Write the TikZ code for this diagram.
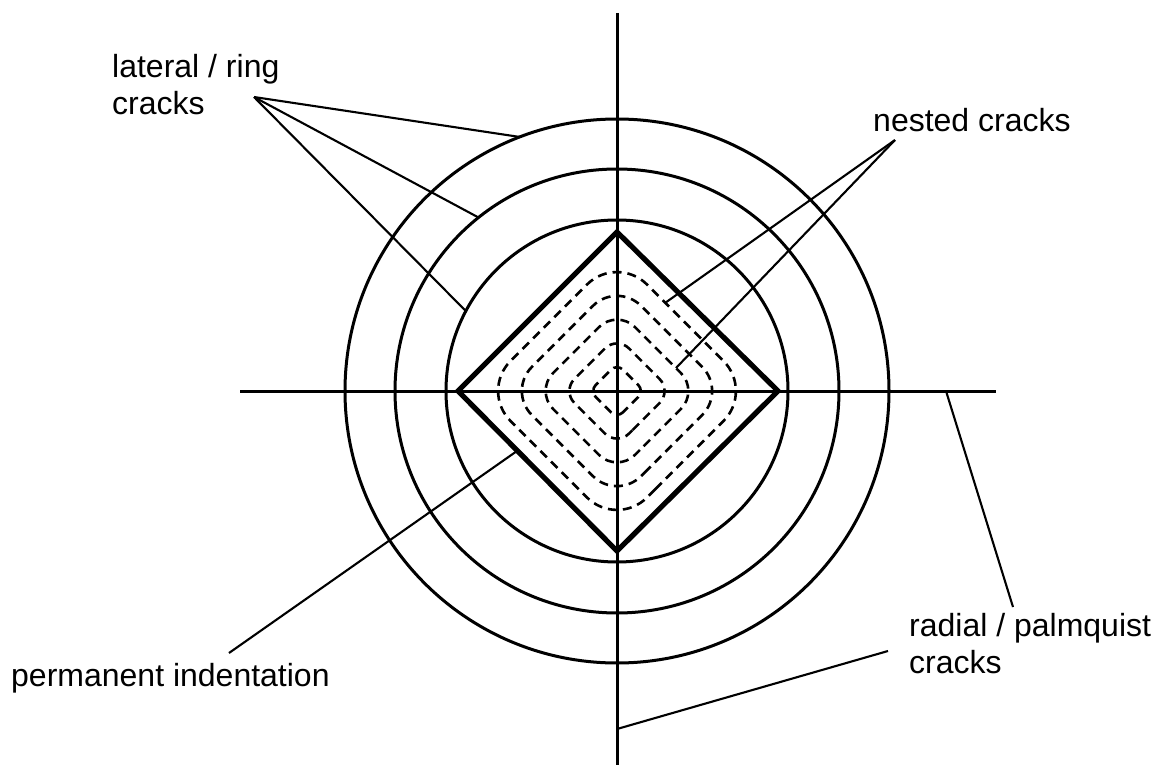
\documentclass[tikz,border=0pt]{standalone}
\usepackage{fontspec}
\setmainfont{Liberation Sans}
\usetikzlibrary{calc}
\begin{document}
\begin{tikzpicture}[x=1pt,y=-1pt,
  ring/.style={line width=3pt},
  axisline/.style={line width=3pt},
  indent/.style={line width=5.2pt,line join=miter},
  nest/.style={line width=2.6pt,dash pattern=on 9pt off 6pt},
  leader/.style={line width=2.1pt},
  lbl/.style={inner sep=0pt,font=\fontsize{32}{37}\selectfont,align=left}]
\useasboundingbox (0,0) rectangle (1160,765);
\coordinate (C) at (617,391);
% axes
\coordinate (vtop) at (617,13);
\coordinate (vbot) at (617,765);
\coordinate (hl) at (240,391);
\coordinate (hr) at (996,391);
\draw[axisline] (vtop) -- (vbot);
\draw[axisline] (hl) -- (hr);
% rings
\foreach \r in {171,222,272} \draw[ring] (C) circle[radius=\r pt];
% nested dashed cracks
\foreach \k in {1,...,5} {
  \pgfmathsetmacro\D{27.3*\k}
  \pgfmathsetmacro\R{8.5*\k}
  \draw[nest,rounded corners=\R pt,shift={(C)}]
    (\D/2,\D/2) -- (0,\D) -- (-\D,0) -- (0,-\D) -- (\D,0) -- cycle;
}
% permanent indentation
\coordinate (dt) at (617,232);
\coordinate (dr) at (778,391);
\coordinate (db) at (617,551);
\coordinate (dl) at (458,391);
\draw[indent] (dt) -- (dr) -- (db) -- (dl) -- cycle;
% labels
\node[lbl,anchor=north west] (lat) at (112,54) {lateral / ring\\cracks};
\node[lbl,anchor=base west] (nes) at (873,132) {nested cracks};
\node[lbl,anchor=base west] (per) at (11,686) {permanent indentation};
\node[lbl,anchor=north west] (rad) at (909,613) {radial / palmquist\\cracks};
% leader ends
\coordinate (latT) at (254,97);
\coordinate (lat1) at (520,137);
\coordinate (lat2) at (478.5,217.5);
\coordinate (lat3) at (465.8,311);
\coordinate (nesT) at (895,140);
\coordinate (nes1) at (665,303);
\coordinate (nes2) at (676,368);
\coordinate (perT) at (229,653);
\coordinate (per1) at (517,451);
\coordinate (radT1) at (1013,607);
\coordinate (rad1) at (946,391);
\coordinate (radT2) at (888,651);
\coordinate (rad2) at (617,729);
\draw[leader] (latT) -- (lat1);
\draw[leader] (latT) -- (lat2);
\draw[leader] (latT) -- (lat3);
\draw[leader] (nesT) -- (nes1);
\draw[leader] (nesT) -- (nes2);
\draw[leader] (perT) -- (per1);
\draw[leader] (radT1) -- (rad1);
\draw[leader] (radT2) -- (rad2);
\end{tikzpicture}
\end{document}
